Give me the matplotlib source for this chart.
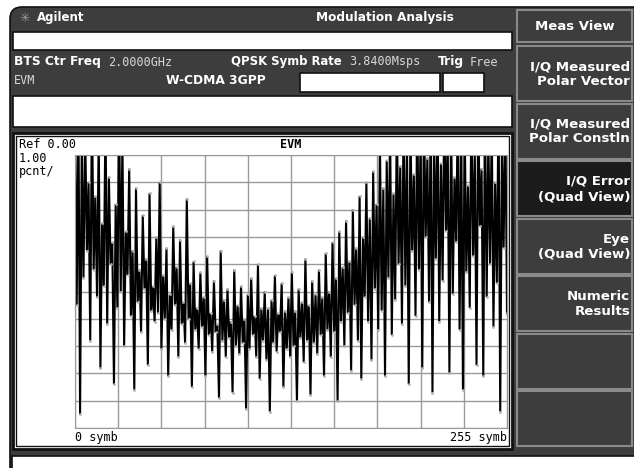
import numpy as np
import matplotlib
matplotlib.use("Agg")
import matplotlib.pyplot as plt
from matplotlib.patches import Rectangle, FancyBboxPatch

# EVM per symbol (percent); values above 10 are clipped at the top
evm_pct = [
    11.0, 4.5, 12.0, 0.5, 10.5, 5.5, 11.0, 6.5, 9.0, 3.2, 12.0, 5.8, 8.5, 4.8, 10.8, 2.2,
    7.5, 5.2, 11.5, 3.8, 9.2, 6.0, 6.8, 1.6, 8.2, 4.4, 12.0, 5.0, 10.6, 3.0, 7.2, 5.6,
    9.5, 4.1, 6.5, 1.4, 8.8, 4.6, 5.8, 3.5, 7.8, 5.1, 6.2, 2.3, 8.6, 4.3, 5.2, 3.9,
    7.0, 4.2, 9.0, 2.9, 5.6, 4.0, 6.6, 1.9, 4.9, 3.6, 7.4, 4.5, 5.9, 2.6, 6.9, 3.8,
    4.6, 3.1, 8.4, 4.0, 5.3, 1.5, 6.1, 3.6, 4.4, 2.9, 5.7, 3.7, 4.8, 1.9, 6.3, 3.4,
    4.2, 2.8, 5.4, 3.5, 3.8, 1.1, 6.5, 3.2, 4.7, 2.6, 5.1, 3.3, 3.9, 1.3, 5.8, 3.0,
    4.5, 2.7, 5.2, 3.1, 4.0, 0.7, 4.9, 2.9, 5.5, 3.4, 4.1, 2.6, 6.0, 1.8, 4.4, 3.2,
    5.0, 2.5, 4.4, 0.6, 4.7, 3.1, 5.6, 2.8, 4.2, 3.5, 5.3, 1.5, 4.3, 2.9, 4.8, 2.6,
    5.7, 3.0, 4.3, 1.0, 5.1, 3.3, 4.6, 2.4, 6.2, 3.2, 4.5, 1.2, 5.4, 3.1, 4.9, 2.7,
    5.8, 3.4, 4.8, 1.9, 6.4, 3.6, 5.0, 2.6, 6.8, 3.5, 5.5, 1.0, 7.2, 3.9, 5.9, 3.0,
    7.6, 4.2, 6.1, 2.1, 8.0, 4.5, 6.6, 3.2, 8.5, 1.8, 7.0, 4.8, 9.0, 3.9, 7.7, 2.5,
    9.4, 5.1, 8.2, 3.6, 10.5, 4.3, 8.8, 1.9, 9.8, 5.5, 11.0, 3.4, 8.6, 4.7, 11.5, 6.0,
    9.6, 3.8, 12.0, 5.2, 10.2, 1.6, 11.2, 6.5, 9.3, 4.1, 12.0, 5.8, 10.8, 2.2, 11.6, 7.0,
    9.9, 4.6, 12.0, 1.3, 10.4, 6.2, 11.8, 3.9, 9.7, 5.4, 12.0, 7.2, 10.6, 2.0, 11.4, 4.9,
    9.2, 6.8, 12.0, 3.6, 10.9, 1.4, 11.3, 5.7, 8.9, 4.4, 12.0, 6.3, 10.1, 2.3, 11.7, 7.4,
    9.5, 1.9, 12.0, 4.8, 10.7, 6.0, 11.1, 3.7, 9.0, 5.3, 12.0, 0.6, 10.3, 6.6, 11.9, 4.2,
]
symbols = np.arange(len(evm_pct))

softkeys = [
    "I/Q Measured\nPolar Vector",
    "I/Q Measured\nPolar Constln",
    "I/Q Error\n(Quad View)",
    "Eye\n(Quad View)",
    "Numeric\nResults",
    "",
    "",
]
selected_key = 2

DARK = "#3d3d3d"
W, H = 634, 468

fig = plt.figure(figsize=(W / 100, H / 100), dpi=100)
fig.patch.set_facecolor("white")
bg = fig.add_axes([0, 0, 1, 1])
bg.set_xlim(0, W)
bg.set_ylim(H, 0)
bg.axis("off")

# instrument bezel
bg.add_patch(FancyBboxPatch((10, 7), 640, 500, boxstyle="round,pad=0,rounding_size=12",
                            fc=DARK, ec="#111111", lw=1.2))

bold = dict(color="white", fontweight="bold", fontfamily="DejaVu Sans", va="center")
thin = dict(color="#d8d8d8", fontfamily="DejaVu Sans Mono", va="center")

bg.text(25, 18, "\u2733", color="#9a9a9a", fontsize=9, va="center", ha="center")
bg.text(37, 18, "Agilent", fontsize=8.5, **bold)
bg.text(385, 18, "Modulation Analysis", fontsize=8.7, ha="center", **bold)

# status boxes
bg.add_patch(Rectangle((13, 32), 499, 18, fc="white", ec="#111111", lw=1.2))
bg.add_patch(Rectangle((13, 96), 499, 31, fc="white", ec="#111111", lw=1.2))
bg.add_patch(Rectangle((300, 73), 140, 19, fc="white", ec="#111111", lw=1.2))
bg.add_patch(Rectangle((443, 73), 41, 19, fc="white", ec="#111111", lw=1.2))

bg.text(14, 62, "BTS Ctr Freq", fontsize=8.8, **bold)
bg.text(108, 62, "2.0000GHz", fontsize=8.5, **thin)
bg.text(231, 62, "QPSK Symb Rate", fontsize=8.4, **bold)
bg.text(349, 62, "3.8400Msps", fontsize=8.5, **thin)
bg.text(438, 62, "Trig", fontsize=8.8, **bold)
bg.text(470, 62, "Free", fontsize=8.5, **thin)
bg.text(14, 80, "EVM", fontsize=8.5, **thin)
bg.text(166, 80, "W-CDMA 3GPP", fontsize=8.8, **bold)

# graph panel
bg.add_patch(Rectangle((13, 133), 499, 316, fc="white", ec="#111111", lw=2))
bg.add_patch(Rectangle((16, 136), 493, 310, fc="none", ec="#111111", lw=1))
mono = dict(color="black", fontfamily="DejaVu Sans Mono", fontsize=8.5, va="center")
bg.text(19, 145, "Ref 0.00", **mono)
bg.text(19, 158, "1.00", **mono)
bg.text(19, 172, "pcnt/", **mono)
bg.text(291, 145, "EVM", ha="center", color="black", fontweight="bold",
        fontfamily="DejaVu Sans Mono", fontsize=8.5, va="center")
bg.text(75, 438, "0 symb", **mono)
bg.text(507, 438, "255 symb", ha="right", **mono)

# bottom message bar
bg.add_patch(Rectangle((12, 456), 630, 20, fc="white", ec="#111111", lw=1.2))

# softkeys
bg.add_patch(Rectangle((517, 10), 115, 32, fc=DARK, ec="#8a8a8a", lw=1.5))
bg.text(575, 27, "Meas View", fontsize=9.5, ha="center", **bold)
for i, label in enumerate(softkeys):
    top = 46 + i * 57.5
    fc = "#1c1c1c" if i == selected_key else DARK
    bg.add_patch(Rectangle((517, top), 115, 55, fc=fc, ec="#8a8a8a", lw=1.5))
    if label:
        bg.text(630, top + 28, label, fontsize=9.6, ha="right", linespacing=1.2,
                multialignment="right", **bold)

# EVM trace
ax = fig.add_axes([75 / W, 1 - 428 / H, 432 / W, 273 / H])
ax.plot(symbols, evm_pct, color="black", lw=1.5, solid_joinstyle="miter")
ax.plot(symbols, evm_pct, ls="none", marker="o", ms=2, mec="none", mfc="#b0b0b0")
ax.set_xlim(0, 255)
ax.set_ylim(0, 10)
ax.set_xticks(np.linspace(0, 255, 11))
ax.set_yticks(np.arange(0, 11, 1))
ax.grid(True, color="#9a9a9a", lw=1)
ax.set_axisbelow(True)
ax.tick_params(length=0, labelbottom=False, labelleft=False)
for s in ax.spines.values():
    s.set_color("#9a9a9a")
ax.patch.set_alpha(0)

fig.savefig("out.png", dpi=100)
